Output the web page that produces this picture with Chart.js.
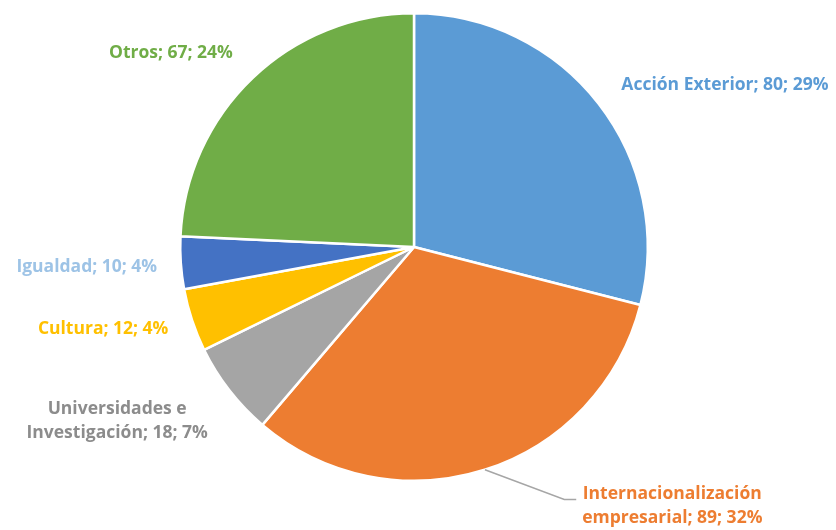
<!DOCTYPE html>
<html>
<head>
<meta charset="utf-8">
<style>
  html, body { margin: 0; padding: 0; background: #fff; }
  #wrap { width: 836px; height: 530px; }
</style>
</head>
<body>
<div id="wrap"><canvas id="pieChart" width="836" height="530"></canvas></div>
<script src="https://cdn.jsdelivr.net/npm/chart.js"></script>
<script>
    var categories = ['Acción Exterior', 'Internacionalización empresarial', 'Universidades e Investigación', 'Cultura', 'Igualdad', 'Otros'];
    var values = [80, 89, 18, 12, 10, 67];
    var sliceColors = ['#5B9BD5', '#ED7D31', '#A5A5A5', '#FFC000', '#4472C4', '#70AD47'];
    var labelColors = ['#5B9BD5', '#ED7D31', '#8C8C8C', '#FFC000', '#9DC3E6', '#70AD47'];
    // label text lines and where they sit, relative to the pie centre (in radii)
    var labelLines = [
        ['Acción Exterior; 80; 29%'],
        ['Internacionalización', 'empresarial; 89; 32%'],
        ['Universidades e', 'Investigación; 18; 7%'],
        ['Cultura; 12; 4%'],
        ['Igualdad; 10; 4%'],
        ['Otros; 67; 24%']
    ];
    var labelPos = [[1.33, -0.694], [1.105, 1.11], [-1.27, 0.745], [-1.33, 0.353], [-1.40, 0.085], [-1.04, -0.83]];

    var labelPlugin = {
        id: 'pieLabels',
        afterDatasetsDraw: function (chart) {
            var ctx = chart.ctx;
            var meta = chart.getDatasetMeta(0);
            var arc0 = meta.data[0];
            var cx = arc0.x, cy = arc0.y, r = arc0.outerRadius;
            ctx.save();

            // leader line for the orange slice
            ctx.strokeStyle = '#A6A6A6';
            ctx.lineWidth = 1.5;
            ctx.beginPath();
            var a = Math.atan2(226, 72);
            ctx.moveTo(cx + r * Math.cos(a), cy + r * Math.sin(a));
            ctx.lineTo(cx + 0.643 * r, cy + 1.08 * r);
            ctx.lineTo(cx + 0.694 * r, cy + 1.08 * r);
            ctx.stroke();

            ctx.font = 'bold 17.5px "Open Sans", "Noto Sans", sans-serif';
            ctx.textAlign = 'center';
            ctx.textBaseline = 'middle';
            var lh = 24;
            labelLines.forEach(function (lines, i) {
                var x = cx + labelPos[i][0] * r;
                var y = cy + labelPos[i][1] * r - (lines.length - 1) * lh / 2;
                ctx.fillStyle = labelColors[i];
                lines.forEach(function (t, j) {
                    ctx.fillText(t, x, y + j * lh);
                });
            });
            ctx.restore();
        }
    };

    var ctx = document.getElementById('pieChart').getContext('2d');
    var pieChart = new Chart(ctx, {
        type: 'pie',
        data: {
            labels: categories,
            datasets: [{
                data: values,
                backgroundColor: sliceColors,
                borderColor: '#ffffff',
                borderWidth: 2.5
            }]
        },
        options: {
            responsive: false,
            animation: false,
            layout: { padding: { top: 12, bottom: 48, left: 0, right: 8 } },
            plugins: {
                legend: { display: false },
                tooltip: { enabled: false }
            }
        },
        plugins: [labelPlugin]
    });
</script>
</body>
</html>
